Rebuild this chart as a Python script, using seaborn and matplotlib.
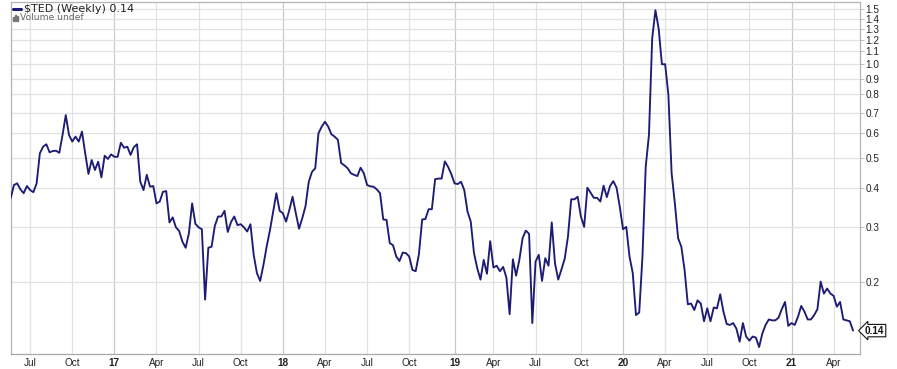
import numpy as np
import pandas as pd
import matplotlib
matplotlib.use("Agg")
import matplotlib.pyplot as plt
import matplotlib.ticker as mticker
import matplotlib.transforms as mtransforms
from matplotlib.lines import Line2D
from matplotlib.patches import Rectangle
import seaborn as sns

# ---------------- data ----------------
start_date = "2016-05-27"          # first weekly close (Friday)
ted_values = [
    0.372, 0.410, 0.415, 0.397, 0.386, 0.407, 0.395, 0.389, 0.415, 0.518,
    0.544, 0.554, 0.522, 0.527, 0.528, 0.520, 0.593, 0.687, 0.593, 0.565,
    0.586, 0.565, 0.608, 0.518, 0.445, 0.493, 0.458, 0.487, 0.434, 0.509,
    0.497, 0.514, 0.505, 0.505, 0.560, 0.540, 0.544, 0.512, 0.542, 0.554,
    0.420, 0.395, 0.442, 0.405, 0.407, 0.358, 0.363, 0.390, 0.392, 0.311,
    0.323, 0.300, 0.292, 0.270, 0.258, 0.287, 0.358, 0.308, 0.300, 0.296,
    0.176, 0.258, 0.260, 0.303, 0.325, 0.325, 0.339, 0.290, 0.312, 0.325,
    0.305, 0.307, 0.300, 0.291, 0.307, 0.245, 0.214, 0.202, 0.227, 0.260,
    0.293, 0.337, 0.386, 0.339, 0.333, 0.313, 0.341, 0.376, 0.333, 0.297,
    0.321, 0.351, 0.420, 0.452, 0.464, 0.601, 0.631, 0.654, 0.631, 0.596,
    0.586, 0.572, 0.482, 0.474, 0.464, 0.447, 0.442, 0.438, 0.466, 0.447,
    0.410, 0.406, 0.405, 0.397, 0.386, 0.318, 0.317, 0.267, 0.263, 0.242,
    0.234, 0.249, 0.248, 0.242, 0.219, 0.217, 0.246, 0.318, 0.319, 0.343,
    0.343, 0.428, 0.430, 0.430, 0.488, 0.469, 0.444, 0.415, 0.413, 0.420,
    0.395, 0.337, 0.313, 0.248, 0.222, 0.204, 0.236, 0.213, 0.271, 0.223,
    0.226, 0.217, 0.224, 0.207, 0.158, 0.237, 0.210, 0.236, 0.277, 0.293,
    0.286, 0.148, 0.233, 0.245, 0.202, 0.239, 0.226, 0.311, 0.230, 0.204,
    0.220, 0.238, 0.280, 0.369, 0.369, 0.376, 0.325, 0.301, 0.402, 0.387,
    0.373, 0.373, 0.363, 0.408, 0.375, 0.407, 0.422, 0.402, 0.349, 0.296,
    0.301, 0.242, 0.214, 0.157, 0.160, 0.242, 0.469, 0.593, 1.210, 1.490,
    1.300, 1.000, 1.000, 0.797, 0.447, 0.358, 0.277, 0.260, 0.219, 0.170,
    0.171, 0.163, 0.175, 0.171, 0.150, 0.165, 0.150, 0.166, 0.165, 0.183,
    0.161, 0.147, 0.146, 0.148, 0.142, 0.129, 0.148, 0.134, 0.130, 0.134,
    0.133, 0.124, 0.137, 0.146, 0.152, 0.151, 0.151, 0.154, 0.164, 0.173,
    0.145, 0.148, 0.146, 0.155, 0.168, 0.161, 0.152, 0.152, 0.157, 0.164,
    0.201, 0.184, 0.191, 0.184, 0.181, 0.167, 0.173, 0.152, 0.151, 0.150,
    0.140,
]
y_ticks = [0.2, 0.3, 0.4, 0.5, 0.6, 0.7, 0.8, 0.9, 1.0, 1.1, 1.2, 1.3, 1.4, 1.5]
y_tick_labels = ["0.2", "0.3", "0.4", "0.5", "0.6", "0.7", "0.8", "0.9",
                 "1.0", "1.1", "1.2", "1.3", "1.4", "1.5"]
x_tick_months = ["2016-07", "2016-10", "2017-01", "2017-04", "2017-07", "2017-10",
                 "2018-01", "2018-04", "2018-07", "2018-10", "2019-01", "2019-04",
                 "2019-07", "2019-10", "2020-01", "2020-04", "2020-07", "2020-10",
                 "2021-01", "2021-04"]
x_tick_labels = ["Jul", "Oct", "17", "Apr", "Jul", "Oct", "18", "Apr", "Jul", "Oct",
                 "19", "Apr", "Jul", "Oct", "20", "Apr", "Jul", "Oct", "21", "Apr"]
legend_label = "$TED (Weekly) 0.14"
volume_label = "Volume undef"
last_label = "0.14"

# ---------------- style ----------------
sns.set_style("white")
plt.rcParams["font.family"] = ["DejaVu Sans"]

LINE = "#1c1c74"
GRID = "#e2e2e2"
YEARGRID = "#c9c9c9"
SPINE = "#b4b4b4"

W, H = 897, 369
fig = plt.figure(figsize=(W / 100, H / 100), dpi=100)
x0, x1, ytop, ybot = 10.7, 860.0, 2.0, 354.0
ax = fig.add_axes([x0 / W, 1 - ybot / H, (x1 - x0) / W, (ybot - ytop) / H])

dates = pd.date_range(start_date, periods=len(ted_values), freq="7D")
df = pd.DataFrame({"date": dates, "TED": ted_values})

sns.lineplot(data=df, x="date", y="TED", ax=ax, color=LINE, linewidth=1.35,
             zorder=5)

ax.set_yscale("log")
ax.set_ylim(0.1178, 1.583)
ax.set_xlim(dates[0], dates[0] + pd.Timedelta(days=1835))

# y axis on the right
ax.yaxis.tick_right()
ax.yaxis.set_major_locator(mticker.FixedLocator(y_ticks))
ax.yaxis.set_major_formatter(mticker.FixedFormatter(y_tick_labels))
ax.yaxis.set_minor_locator(mticker.NullLocator())
ax.yaxis.set_minor_formatter(mticker.NullFormatter())
ax.tick_params(axis="y", length=3, width=0.6, color=SPINE, pad=1,
               labelsize=7.2, labelcolor="#222222")
for lab in ax.get_yticklabels():
    lab.set_fontfamily("Liberation Sans")
ax.grid(axis="y", color=GRID, linewidth=0.9, zorder=0)

# x ticks: first weekly bar whose week starts in the quarter month
tick_dates = []
for m in x_tick_months:
    p = pd.Period(m, freq="M")
    cand = [d for d in dates if (d - pd.Timedelta(days=4)).to_period("M") == p]
    if cand:
        tick_dates.append(cand[0])
    else:
        tick_dates.append(dates[-1] + pd.Timedelta(days=7) *
                          ((p.start_time - dates[-1]).days // 7 + 1))
ax.set_xticks(tick_dates)
ax.set_xticklabels(x_tick_labels)
ax.tick_params(axis="x", length=0, pad=3, labelsize=7.2, labelcolor="#222222")
for lab in ax.get_xticklabels():
    lab.set_fontfamily("Liberation Sans")
    if lab.get_text().isdigit():
        lab.set_fontweight("bold")
for d, lab in zip(tick_dates, x_tick_labels):
    ax.axvline(d, color=YEARGRID if lab.isdigit() else GRID, linewidth=0.9,
               zorder=0)

ax.set_xlabel("")
ax.set_ylabel("")
for s in ["left", "right", "top"]:
    ax.spines[s].set_color(SPINE)
    ax.spines[s].set_linewidth(0.9)
ax.spines["bottom"].set_color("#a8a8a8")
ax.spines["bottom"].set_linewidth(0.9)
ax.spines["bottom"].set_linestyle((0, (1, 1)))

# last value tag
tr = mtransforms.blended_transform_factory(ax.transAxes, ax.transData)
ax.text(1.006, ted_values[-1], last_label, transform=tr, ha="left", va="center",
        fontsize=7.2, fontweight="bold", fontfamily="Liberation Sans",
        color="#111111", clip_on=False,
        bbox=dict(boxstyle="larrow,pad=0.12", fc="white", ec="#111111", lw=0.8))

# legend-like header
fig.add_artist(Line2D([13 / W, 21 / W], [1 - 9 / H, 1 - 9 / H], color=LINE,
                      linewidth=2.2))
fig.text(24 / W, 1 - 9 / H, legend_label.replace("$", r"\$"), fontsize=8,
         color="#222222", va="center", ha="left")
for bx, bh in [(13, 4), (15, 6), (17, 5)]:
    fig.add_artist(Rectangle((bx / W, 1 - 21 / H), 1.3 / W, bh / H,
                             color="#777777", transform=fig.transFigure))
fig.text(20 / W, 1 - 18 / H, volume_label, fontsize=6.6, color="#666666",
         va="center", ha="left")

fig.savefig("out.png", dpi=100)
